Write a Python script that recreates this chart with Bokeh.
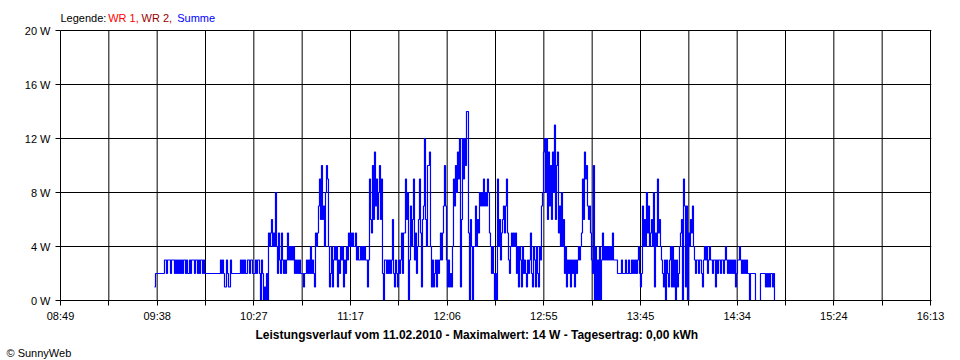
from bokeh.plotting import figure
from bokeh.models import FixedTicker, Label, Range1d, Title
from bokeh.embed import file_html
from bokeh.resources import INLINE

# ---- data (one reading per ~30.6 s, as drawn in the reference) ----
start_time = "09:36:58"
sample_seconds = 30.62
power_w = [
    # 09:37
    1, 2, 2, 2, 2, 2, 2, 2, 2, 2,
    3, 3, 2, 3, 3, 3, 2, 3, 3, 3,
    2, 3, 2, 3, 2, 3, 2, 3, 2, 3,
    3, 2, 3, 2, 2, 3, 2, 3, 3, 3,
    2, 3, 3, 2, 3, 2, 3, 3, 2, 3,
    2, 2, 2, 2, 2, 2, 2, 2, 2, 2, 2, 2, 2, 2, 2, 2,
    3, 2, 3, 2, 1, 1, 3, 2, 1, 1, 3,
    2, 2, 2, 2, 2, 2, 2, 2, 2,
    3, 2, 3, 2, 3, 2, 2, 3, 3, 2, 3, 3, 2, 2, 2, 3, 2, 3, 3, 2,
    0, 3, 2, 0, 1, 0, 2, 0, 5, 4, 5, 6, 4, 5, 4,
    # 10:35
    8, 4, 2, 5, 3, 2, 5, 3, 2, 3, 2, 3, 5, 3, 4, 3, 4, 3, 4,
    2, 3, 2, 3, 2, 3, 2, 2, 2, 1, 2, 2,
    3, 2, 3, 2, 4, 2, 3, 2, 1, 5, 4, 5,
    7, 9, 6, 10, 6, 7, 4, 8, 10, 9, 4, 1, 2, 4, 1,
    3, 4, 3, 4, 1, 3, 2, 4, 3, 4, 1, 3, 2, 4, 3,
    5, 4, 5, 4, 5, 4, 4, 5,
    3, 4, 3, 3, 4, 3, 4, 3, 4, 3, 3, 1, 3,
    9, 6, 5, 10, 6, 11, 7, 9, 6, 8, 10, 6, 9,
    2, 0, 3, 3, 2, 3, 2, 3, 2, 3, 6, 2, 1, 3, 2, 1, 3, 2,
    # 11:42
    3, 5, 2, 5, 5, 9, 6, 8, 0, 3, 7, 4, 6, 9, 3, 5, 2, 4,
    6, 9, 5, 1, 6, 7, 12, 6, 4, 10, 10, 11, 4,
    1, 3, 1, 2, 3, 1, 3, 2, 3, 5, 3, 5, 7, 10, 7,
    3, 1, 3, 1, 2, 1, 4, 9, 7, 10, 8, 11, 9,
    12, 1, 6, 12, 9, 12, 10, 14, 14, 5, 0, 6, 4, 0,
    4, 4, 7, 4, 6, 5, 8, 7, 8, 7, 9, 7, 8, 7, 9, 8, 5, 4, 2, 4,
    2, 0, 2, 0, 9, 4, 6, 3, 5, 6, 7, 5, 7, 9, 5, 3, 2, 4,
    5, 4, 5, 4, 5, 2, 4, 1, 4, 3, 1, 4, 2, 3,
    # 12:46
    2, 1, 3, 2, 3, 5, 2, 1, 4, 3, 1, 4, 2, 1, 4, 3, 7,
    8, 11, 12, 8, 12, 6, 11, 7, 10, 6, 11, 8, 13,
    6, 10, 11, 5, 7, 4, 8, 4, 6, 2, 4, 1, 3,
    2, 3, 1, 3, 2, 3, 1, 3, 2, 3, 4, 3, 4,
    5, 9, 6, 11, 9, 10, 7, 6, 7, 5, 3, 2,
    10, 0, 4, 0, 3, 0, 4, 0, 3, 5, 3, 4, 3,
    4, 3, 4, 3, 4, 3, 5, 3, 3, 3, 3, 2, 2, 2, 2,
    3, 2, 2, 2, 3, 2, 2, 3, 2, 2, 3,
    2, 3, 2, 3, 2, 3, 4, 2, 1, 2,
    7, 4, 6, 4, 8, 5, 7, 4,
    # 13:50
    5, 6, 4, 8, 1, 5, 4, 9, 5, 6, 4, 3, 2, 1, 3, 0,
    3, 2, 1, 3, 4, 1, 4, 1, 3, 0, 3, 1, 2, 4, 5, 6, 0,
    9, 7, 1, 7, 0, 5, 4, 6, 5, 7, 4,
    3, 2, 3, 3, 2, 3, 3, 2, 1, 3, 4, 3, 4, 2, 3, 4, 3,
    3, 2, 3, 3, 1, 3, 2, 3, 3, 2, 3, 3, 2, 3, 4,
    3, 2, 3, 2, 3, 2, 3, 2, 3, 1, 2, 3, 3, 4, 3,
    2, 3, 2, 3, 2, 3, 2, 2, 0, 2, 2, 2, 2, 2,
    0, 0, 0, 0, 0, 2, 2, 2, 2, 2, 1, 2, 1, 2, 1, 2, 2, 1, 2, 0,
]

axis_start = "08:49:00"
axis_end = "16:13:00"
x_tick_labels = ["08:49", "09:38", "10:27", "11:17", "12:06",
                 "12:55", "13:45", "14:34", "15:24", "16:13"]
y_max = 20
y_ticks = [0, 4, 8, 12, 16, 20]
y_tick_labels = ["0 W", "4 W", "8 W", "12 W", "16 W", "20 W"]

title_text = "Leistungsverlauf vom 11.02.2010 - Maximalwert: 14 W - Tagesertrag: 0,00 kWh"
legend_parts = [("Legende:", "#000000"), ("WR 1,", "#FF0000"),
                ("WR 2,", "#990000"), ("Summe", "#0000FF")]
copyright_text = "\u00a9 SunnyWeb"


def to_sec(s):
    h, m, sec = s.split(":")
    return int(h) * 3600 + int(m) * 60 + int(sec)


t0 = to_sec(start_time)
xs = [t0 + i * sample_seconds for i in range(len(power_w))]
x0 = to_sec(axis_start)
x1 = to_sec(axis_end)
n_grid = 2 * (len(x_tick_labels) - 1)
grid_step = (x1 - x0) // n_grid
x_ticks = [x0 + k * grid_step for k in range(n_grid + 1)]
x_over = {t: (x_tick_labels[k // 2] if k % 2 == 0 else "") for k, t in enumerate(x_ticks)}
y_over = {t: l for t, l in zip(y_ticks, y_tick_labels)}

# page geometry
W, H = 960, 360
PLOT_L, PLOT_R, PLOT_T, PLOT_B = 60, 930, 30, 300   # data area in page pixels
FONT = "Liberation Sans"

px_x = (x1 - x0) / (PLOT_R - PLOT_L)      # seconds per pixel
px_y = y_max / (PLOT_B - PLOT_T)          # watts per pixel
# the frame reaches the top of the canvas (so the legend text lies inside it)
# and one pixel past the last grid line (so that line is not clipped)
x_range = Range1d(x0, x1 + 1 * px_x)
y_range = Range1d(0, y_max + PLOT_T * px_y)

p = figure(width=W, height=H, x_range=x_range, y_range=y_range,
           output_backend="svg", toolbar_location=None,
           min_border_left=PLOT_L, min_border_right=W - PLOT_R - 1,
           min_border_top=0, min_border_bottom=H - PLOT_B)
p.background_fill_color = "white"
p.border_fill_color = "white"
p.outline_line_color = None

# vertical grid lines, limited to the 0..20 W band
p.segment(x0=x_ticks, y0=[0] * len(x_ticks), x1=x_ticks, y1=[y_max] * len(x_ticks),
          line_color="black", line_width=1)
p.xgrid.visible = False

p.step(xs, power_w, mode="after", line_color="#0000FF", line_width=1.2)

p.xaxis.ticker = FixedTicker(ticks=x_ticks)
p.xaxis.major_label_overrides = x_over
p.yaxis.ticker = FixedTicker(ticks=y_ticks)
p.yaxis.major_label_overrides = y_over
p.yaxis.bounds = (0, y_max)
for ax in (p.xaxis, p.yaxis):
    ax.minor_tick_line_color = None
    ax.major_tick_in = 0
    ax.major_tick_out = 5
    ax.major_tick_line_color = "black"
    ax.axis_line_color = "black"
    ax.major_label_text_font = FONT
    ax.major_label_text_font_size = "11px"
    ax.major_label_text_color = "black"
p.xaxis.major_label_standoff = 4
p.yaxis.major_label_standoff = 5

p.ygrid.ticker = FixedTicker(ticks=y_ticks)
p.ygrid.grid_line_color = "black"
p.ygrid.grid_line_alpha = 1.0
p.ygrid.grid_line_width = 1


def page_label(px, py, txt, col):
    # screen units are measured from the frame's bottom-left corner, y upwards
    return Label(x=px - PLOT_L, y=PLOT_B - py, x_units="screen", y_units="screen",
                 text=txt, text_color=col, text_font=FONT, text_font_size="11px",
                 text_baseline="middle", text_align="left")


leg_x = [60, 107.7, 141, 176.7]
for (txt, col), lx in zip(legend_parts, leg_x):
    p.add_layout(page_label(lx, 17, txt, col))

# texts under the axis
p.add_layout(Title(text=title_text, align="left", offset=195, standoff=5,
                   vertical_align="middle", text_font=FONT, text_font_size="12px",
                   text_font_style="bold", text_color="black"), "below")
p.add_layout(Title(text=copyright_text, align="left", offset=-54, standoff=0,
                   vertical_align="middle", text_font=FONT, text_font_size="11px",
                   text_font_style="normal", text_color="black"), "below")

open("out.html", "w").write(file_html(p, INLINE))
